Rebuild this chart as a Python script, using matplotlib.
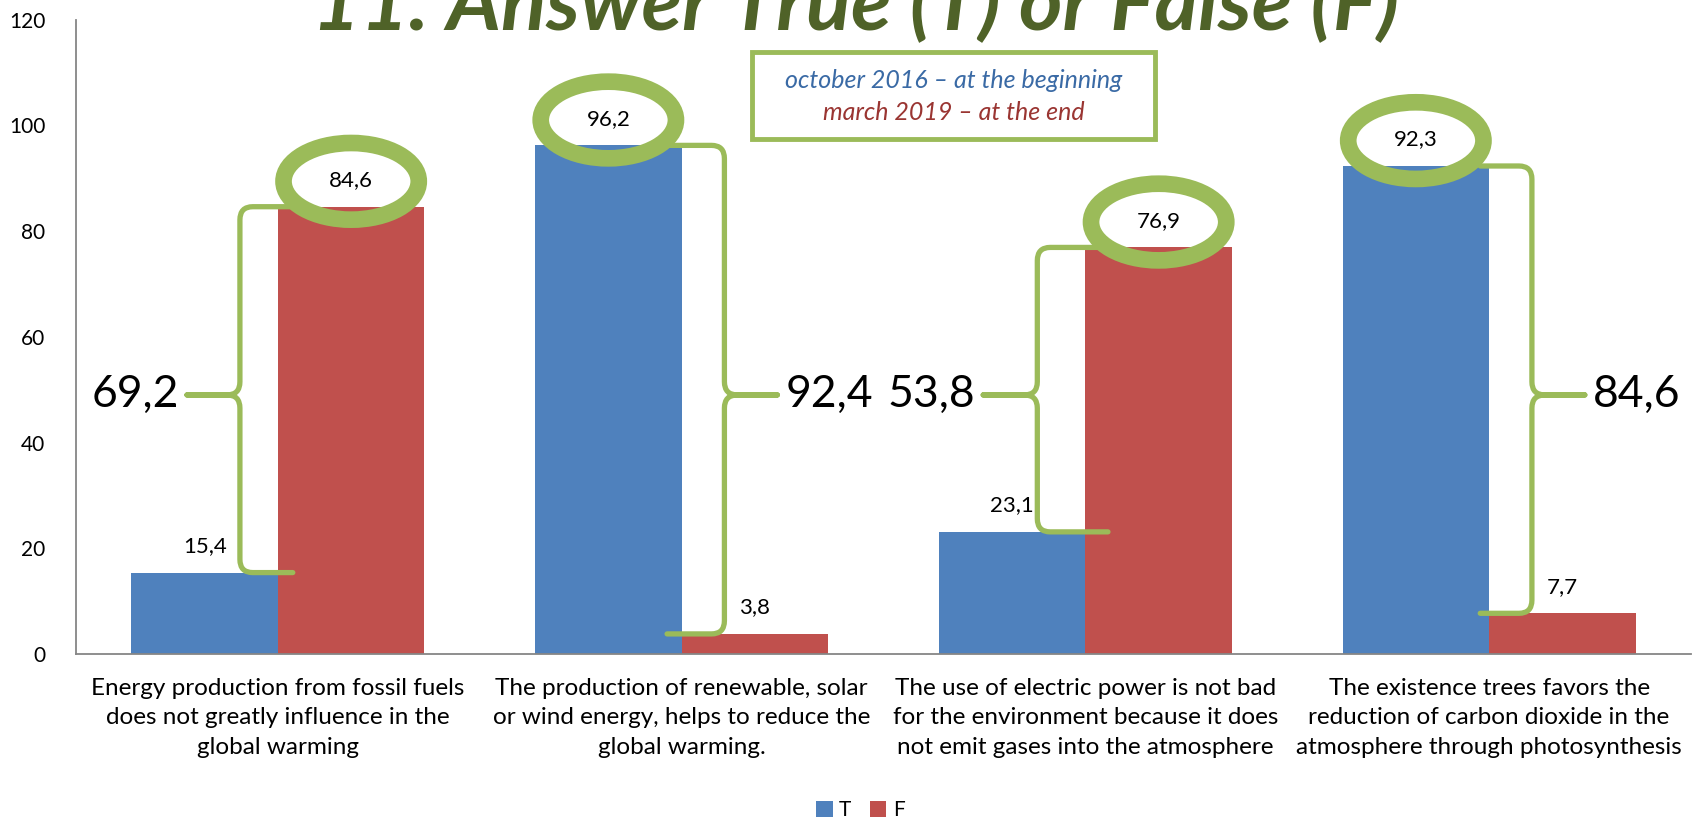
import matplotlib
matplotlib.use('Agg')
import matplotlib.pyplot as plt
from matplotlib.path import Path
from matplotlib.patches import PathPatch, Ellipse, Rectangle
import numpy as np

plt.rcParams['font.family'] = ['Lato', 'DejaVu Sans']

categories = ['Energy production from fossil fuels\ndoes not greatly influence in the\nglobal warming',
              'The production of renewable, solar\nor wind energy, helps to reduce the\nglobal warming.',
              'The use of electric power is not bad\nfor the environment because it does\nnot emit gases into the atmosphere',
              'The existence trees favors the\nreduction of carbon dioxide in the\natmosphere through photosynthesis']
t_vals = [15.4, 96.2, 23.1, 92.3]
f_vals = [84.6, 3.8, 76.9, 7.7]
y_ticks = [0, 20, 40, 60, 80, 100, 120]

# brace placement per group (offsets from group centre, in category units)
brace_xv = [-0.094, 0.106, -0.119, 0.106]
brace_tip = [-0.225, 0.237, -0.253, 0.237]
brace_end = [0.037, -0.036, 0.056, -0.022]
brace_mid = 49

blue = '#4F81BD'
red = '#C0504D'
green = '#9BBB59'

fig = plt.figure(figsize=(17, 8.21), dpi=100)
ax = fig.add_axes([0.0447, 0.2034, 0.95, 0.7728])

x = np.arange(len(categories))
w = 0.363
bt = ax.bar(x - w / 2, t_vals, w, color=blue, label='T', zorder=2)
bf = ax.bar(x + w / 2, f_vals, w, color=red, label='F', zorder=2)

ax.set_xlim(-0.5, 3.5)
ax.set_ylim(0, 120)
ax.set_yticks(y_ticks)
ax.set_xticks(x)
ax.set_xticklabels(categories, fontsize=17.5, linespacing=1.52)
ax.tick_params(axis='y', length=0, pad=22, labelsize=15)
ax.tick_params(axis='x', length=0, pad=17)
for s in ['top', 'right']:
    ax.spines[s].set_visible(False)
for s in ['left', 'bottom']:
    ax.spines[s].set_color('#868686')
    ax.spines[s].set_linewidth(1.3)


def fmt(v):
    return f'{v:.1f}'.replace('.', ',')


for xi, tv, fv in zip(x, t_vals, f_vals):
    ax.text(xi - w / 2, tv + 5, fmt(tv), ha='center', va='center', fontsize=16, zorder=4)
    ax.text(xi + w / 2, fv + 5, fmt(fv), ha='center', va='center', fontsize=16, zorder=4)
    # ring round the larger bar's label
    xc = xi - w / 2 if tv > fv else xi + w / 2
    ax.add_patch(Ellipse((xc, max(tv, fv) + 4.8), 0.335, 14.5, fill=False,
                         ec=green, lw=12, zorder=5))

rx, ry = 0.032, 2.5
for i in range(len(categories)):
    y_top = max(t_vals[i], f_vals[i])
    y_bot = min(t_vals[i], f_vals[i])
    xv = x[i] + brace_xv[i]
    xe = x[i] + brace_end[i]
    xt = x[i] + brace_tip[i]
    sg = 1 if xe > xv else -1
    verts = [(xe, y_top), (xv + sg * rx, y_top), (xv, y_top), (xv, y_top - ry),
             (xv, brace_mid + ry), (xv, brace_mid), (xv - sg * rx, brace_mid), (xt, brace_mid),
             (xv - sg * rx, brace_mid), (xv, brace_mid), (xv, brace_mid - ry),
             (xv, y_bot + ry), (xv, y_bot), (xv + sg * rx, y_bot), (xe, y_bot)]
    codes = [Path.MOVETO, Path.LINETO, Path.CURVE3, Path.CURVE3,
             Path.LINETO, Path.CURVE3, Path.CURVE3, Path.LINETO,
             Path.LINETO, Path.CURVE3, Path.CURVE3,
             Path.LINETO, Path.CURVE3, Path.CURVE3, Path.LINETO]
    ax.add_patch(PathPatch(Path(verts, codes), fill=False, ec=green, lw=3.8,
                           capstyle='round', joinstyle='round', zorder=3))
    diff = fmt(y_top - y_bot)
    if sg > 0:
        ax.annotate(diff, (xt, brace_mid), xytext=(-6, 0), textcoords='offset points',
                    ha='right', va='center', fontsize=32, zorder=6)
    else:
        ax.annotate(diff, (xt, brace_mid), xytext=(6, 0), textcoords='offset points',
                    ha='left', va='center', fontsize=32, zorder=6)

fig.text(0.5035, 0.963, '11. Answer True (T) or False (F)', ha='center', va='baseline',
         fontsize=60, fontweight='bold', fontstyle='italic', color='#4F6228')

fig.add_artist(Rectangle((0.4424, 0.8307), 0.237, 0.106, transform=fig.transFigure,
                         fill=True, fc='white', ec=green, lw=3.5, zorder=10))
fig.text(0.5609, 0.902, 'october 2016 – at the beginning', ha='center', va='center',
         fontsize=18, fontstyle='italic', color='#3A6AA5', zorder=11)
fig.text(0.5609, 0.863, 'march 2019 – at the end', ha='center', va='center',
         fontsize=18, fontstyle='italic', color='#9A3532', zorder=11)

fig.legend(handles=[bt, bf], loc='lower center', bbox_to_anchor=(0.506, -0.022), ncol=2,
           frameon=False, fontsize=15, handlelength=0.8, handleheight=0.8,
           handletextpad=0.3, columnspacing=0.9)

fig.savefig('out.png', dpi=100)
